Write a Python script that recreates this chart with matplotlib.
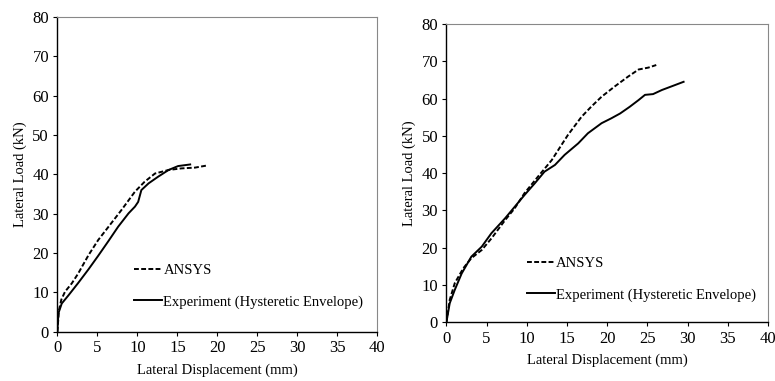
import numpy as np
import matplotlib
matplotlib.use('Agg')
import matplotlib.pyplot as plt

plt.rcParams['font.family'] = ['Liberation Serif', 'DejaVu Serif']

# left specimen
ansys_x_a = [0, 0.2, 0.5, 0.96, 1.8, 2.6, 3.9, 5.1, 6.4, 8.0, 9.7, 10.9, 12.2, 13.9, 15.5, 17.2, 18.6]
ansys_y_a = [0, 5.5, 8.2, 10.2, 12.3, 14.8, 19.5, 23.3, 26.7, 30.9, 35.6, 38.1, 40.2, 41.1, 41.5, 41.7, 42.2]
exp_x_a = [0, 0.13, 0.55, 1.4, 2.6, 3.9, 5.1, 6.4, 7.6, 8.9, 9.7, 10.1, 10.5, 11.4, 12.6, 13.9, 15.1, 16.6]
exp_y_a = [0, 4.7, 7.2, 9.3, 12.4, 15.9, 19.3, 23.1, 26.7, 30.1, 31.8, 33.0, 36.0, 37.7, 39.4, 41.1, 42.1, 42.5]

# right specimen
ansys_x_b = [0, 0.41, 1.04, 2.1, 3.1, 4.4, 5.6, 7.3, 8.5, 9.7, 11.4, 13.1, 15.1, 16.8, 18.0, 19.3, 20.9, 22.6, 23.9, 25.1, 26.1]
ansys_y_b = [0, 6.0, 10.5, 14.5, 17.2, 19.4, 22.5, 27.4, 30.6, 34.6, 39.1, 43.5, 50.2, 55.1, 57.8, 60.5, 63.2, 65.9, 67.8, 68.3, 69.0]
exp_x_b = [0, 0.41, 1.04, 1.9, 3.1, 4.4, 5.6, 7.3, 8.5, 9.7, 11.0, 12.2, 13.5, 14.7, 16.4, 17.6, 19.3, 20.5, 21.6, 22.8, 23.9, 24.7, 25.7, 26.8, 28.4, 29.5]
exp_y_b = [0, 5.1, 8.7, 13.1, 17.6, 20.3, 23.9, 27.9, 31.0, 34.1, 37.3, 40.4, 42.2, 44.9, 48.0, 50.7, 53.4, 54.7, 56.0, 57.8, 59.6, 61.0, 61.2, 62.3, 63.6, 64.5]

x_ticks = np.arange(0, 41, 5)
y_ticks = np.arange(0, 81, 10)

fig = plt.figure(figsize=(7.75, 3.81), dpi=100)
ax1 = fig.add_axes([0.074, 0.129, 0.413, 0.827])
ax2 = fig.add_axes([0.576, 0.154, 0.415, 0.783])

panels = [(ax1, ansys_x_a, ansys_y_a, exp_x_a, exp_y_a, (0.222, 0.055), 5),
          (ax2, ansys_x_b, ansys_y_b, exp_x_b, exp_y_b, (0.232, 0.05), 5)]

for ax, ax_x, ax_y, ex_x, ex_y, leg_pos, xpad in panels:
    ax.plot(ax_x, ax_y, color='black', lw=1.4, dashes=(2.5, 1.2), label='ANSYS')
    ax.plot(ex_x, ex_y, color='black', lw=1.4, label='Experiment (Hysteretic Envelope)')
    ax.set_xlim(0, 40)
    ax.set_ylim(0, 80)
    ax.set_xticks(x_ticks)
    ax.set_yticks(y_ticks)
    ax.tick_params(labelsize=12, length=3, width=0.8, pad=3, direction='out')
    for side in ['top', 'right']:
        ax.spines[side].set_color('#888888')
        ax.spines[side].set_linewidth(0.8)
    for side in ['left', 'bottom']:
        ax.spines[side].set_color('black')
        ax.spines[side].set_linewidth(1.0)
    ax.set_xlabel('Lateral Displacement (mm)', fontsize=10.5, labelpad=xpad)
    ax.set_ylabel('Lateral Load (kN)', fontsize=10.5, labelpad=4)
    ax.legend(frameon=False, loc='lower left', bbox_to_anchor=leg_pos, fontsize=10.5,
              handlelength=1.9, handletextpad=0.1, labelspacing=1.25, borderaxespad=0)

fig.savefig('out.png', dpi=100)
